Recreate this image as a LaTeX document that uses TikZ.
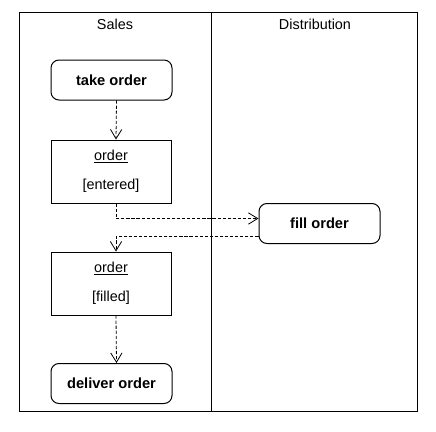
\documentclass[tikz,border=0pt]{standalone}
\usepackage{fontspec}
\setmainfont{Liberation Sans}
\usetikzlibrary{arrows.meta}

\begin{document}
\begin{tikzpicture}[
                x=0.75pt, y=-0.75pt,
                every node/.style={font=\fontsize{10.8}{13}\selectfont},
                actbox/.style={draw, line width=0.75pt, rounded corners=6pt,
                               minimum width=90.75pt, minimum height=30pt,
                               font=\fontsize{11}{13}\selectfont\bfseries},
                objbox/.style={draw, line width=0.75pt, align=center,
                               minimum width=90pt, minimum height=47.25pt},
                flow/.style={-{Straight Barb[length=7pt,width=8.5pt]}, line width=0.6pt,
                             dash pattern=on 2.4pt off 1.4pt}
            ]
                \useasboundingbox (0,0) rectangle (436,432);

                % swimlanes
                \draw[line width=0.75pt] (19,12) rectangle (417,411);
                \draw[line width=0.75pt] (211,12) -- (211,411);
                \node (sales) at (115,24) {Sales};
                \node (distrib) at (315,24) {Distribution};

                \node[actbox] (take) at (111.5,80) {take order};
                \node[objbox] (entered) at (111,171.5) {\underline{order}\\[9pt][entered]};
                \node[actbox] (fill) at (319.5,223.5) {fill order};
                \node[objbox] (filled) at (111,283.5) {\underline{order}\\[9pt][filled]};
                \node[actbox] (deliver) at (111.5,383.5) {deliver order};

                \draw[flow] ([xshift=3.75pt]take.south) -- ([xshift=3.75pt]entered.north);
                \draw[flow] ([xshift=3.75pt]entered.south) |- ([yshift=3.75pt]fill.west);
                \draw[flow] ([yshift=-9.4pt]fill.west) -| ([xshift=3.75pt]filled.north);
                \draw[flow] ([xshift=3.75pt]filled.south) -- ([xshift=3.75pt]deliver.north);

            \end{tikzpicture}
\end{document}
